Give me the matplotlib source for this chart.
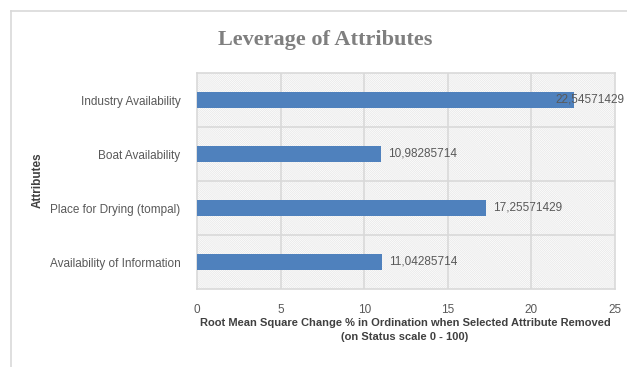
"""
Leverage of attributes bar chart
"""
import matplotlib
matplotlib.use("Agg")
import matplotlib.pyplot as plt
from matplotlib.patches import Rectangle
from matplotlib.lines import Line2D

#data
attributes = ["Availability of Information", "Place for Drying (tompal)",
              "Boat Availability", "Industry Availability"]
values = [11.04285714, 17.25571429, 10.98285714, 22.54571429]
labels = ["11,04285714", "17,25571429", "10,98285714", "22,54571429"]
xticks = [0, 5, 10, 15, 20, 25]

#colours
bar_color = "#4F81BD"
grid_color = "#D9D9D9"
text_color = "#595959"
font = "Liberation Sans"

plt.rcParams["hatch.linewidth"] = 0.45
plt.rcParams["hatch.color"] = "#E4E4E4"

fig = plt.figure(figsize=(6.27, 3.67), dpi=100)
W, H = 627.0, 367.0

#outer chart frame (only left and top visible)
fig.add_artist(Line2D([11 / W, 11 / W], [0, 1 - 11 / H], color=grid_color,
                      lw=1.2, transform=fig.transFigure))
fig.add_artist(Line2D([11 / W, 1], [1 - 11 / H, 1 - 11 / H], color=grid_color,
                      lw=1.2, transform=fig.transFigure))

ax = fig.add_axes([197 / W, 1 - 289 / H, 418 / W, 216 / H])
ax.set_xlim(0, 25)
ax.set_ylim(-0.5, 3.5)

#hatched plot background
ax.add_patch(Rectangle((0, 0), 1, 1, transform=ax.transAxes, facecolor="white",
                       edgecolor="#E4E4E4", hatch="\\" * 17, lw=0, zorder=0))

ax.barh(range(len(values)), values, height=0.3, color=bar_color, zorder=3)

#grid
for x in xticks[1:-1]:
    ax.axvline(x, color=grid_color, lw=1.2, zorder=1)
for y in [0.5, 1.5, 2.5]:
    ax.axhline(y, color=grid_color, lw=1.2, zorder=1)
for side in ["top", "right", "left", "bottom"]:
    ax.spines[side].set_color(grid_color)
    ax.spines[side].set_linewidth(1.2)

#data labels
for i, (val, lab) in enumerate(zip(values, labels)):
    if val > 22:
        ax.text(21.45, i, lab, va="center", ha="left", fontsize=8.5,
                color=text_color, family=font, zorder=4, clip_on=False)
    else:
        ax.text(val + 0.45, i, lab, va="center", ha="left", fontsize=8.5,
                color=text_color, family=font, zorder=4)

ax.set_yticks(range(len(attributes)))
ax.set_yticklabels(attributes, family=font, fontsize=8.5, color=text_color)
ax.set_xticks(xticks)
ax.set_xticklabels([str(x) for x in xticks], family=font, fontsize=8.5,
                   color=text_color)
ax.tick_params(axis="both", length=0)
ax.tick_params(axis="y", pad=12)
ax.tick_params(axis="x", pad=11)

#titles
fig.text(325 / W, 1 - 40 / H, "Leverage of Attributes", ha="center",
         va="center", fontsize=16, fontweight="bold", color="#7F7F7F",
         family="Liberation Serif")
fig.text(38 / W, 1 - 180 / H, "Attributes", ha="center", va="center",
         rotation=90, fontsize=8.5, fontweight="bold", color="#404040",
         family=font)
fig.text(405 / W, 1 - 330 / H,
         "Root Mean Square Change % in Ordination when Selected Attribute Removed\n(on Status scale 0 - 100)",
         ha="center", va="center", fontsize=8, fontweight="bold",
         color="#404040", family=font, linespacing=1.5)

fig.savefig("out.png", dpi=100)
